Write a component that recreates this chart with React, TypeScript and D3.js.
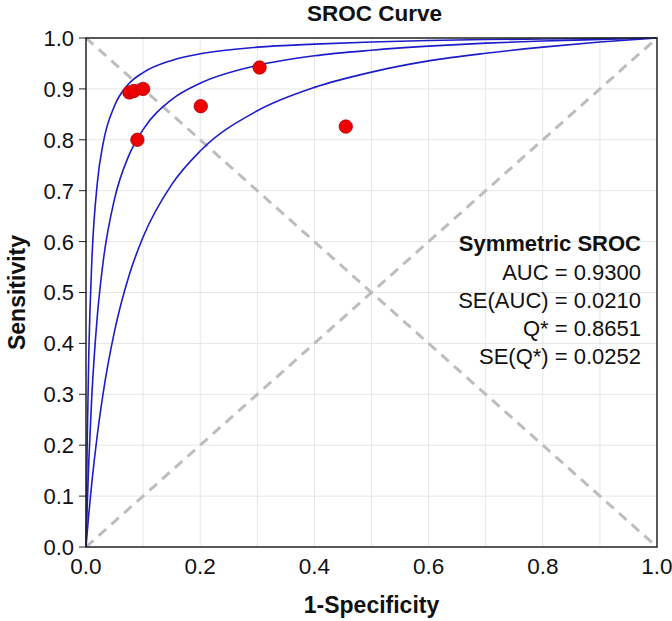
import * as d3 from 'd3'
import type { ReactElement } from 'react'

const curveFpr = [0, 0.002, 0.005, 0.01, 0.02, 0.03, 0.05, 0.075, 0.1, 0.15, 0.2, 0.3, 0.4, 0.5, 0.6, 0.7, 0.8, 0.9, 1]
const upperTpr = [0, 0.199, 0.384, 0.556, 0.717, 0.793, 0.867, 0.91, 0.932, 0.956, 0.969, 0.982, 0.988, 0.992, 0.995, 0.997, 0.998, 0.999, 1]
const middleTpr = [0, 0.076, 0.171, 0.293, 0.456, 0.56, 0.684, 0.769, 0.82, 0.879, 0.911, 0.946, 0.965, 0.976, 0.984, 0.99, 0.994, 0.997, 1]
const lowerTpr = [0, 0.027, 0.066, 0.124, 0.222, 0.302, 0.424, 0.532, 0.609, 0.712, 0.778, 0.857, 0.903, 0.933, 0.955, 0.97, 0.982, 0.992, 1]

// study points
const studyFpr = [0.076, 0.084, 0.1, 0.09, 0.201, 0.304, 0.455]
const studyTpr = [0.893, 0.896, 0.9, 0.8, 0.866, 0.942, 0.826]

const xTicks = [0, 0.2, 0.4, 0.6, 0.8, 1]
const yTicks = [0, 0.1, 0.2, 0.3, 0.4, 0.5, 0.6, 0.7, 0.8, 0.9, 1]
const gridTicks = [0.1, 0.2, 0.3, 0.4, 0.5, 0.6, 0.7, 0.8, 0.9]

const statLines = ['AUC = 0.9300', 'SE(AUC) = 0.0210', 'Q* = 0.8651', 'SE(Q*) = 0.0252']

const width = 672
const height = 621
const margin = { top: 38, right: 15, bottom: 74, left: 86 }
const font = '"Liberation Sans", Arial, sans-serif'

export default function App(): ReactElement {
  const x = d3.scaleLinear().domain([0, 1]).range([margin.left, width - margin.right])
  const y = d3.scaleLinear().domain([0, 1]).range([height - margin.bottom, margin.top])
  const [x0, x1] = x.range()
  const [y0, y1] = y.range()

  const line = d3
    .line<[number, number]>()
    .x((d) => x(d[0]))
    .y((d) => y(d[1]))
    .curve(d3.curveMonotoneX)

  const curves = [upperTpr, middleTpr, lowerTpr].map((tpr) =>
    line(curveFpr.map((f, i) => [f, tpr[i]] as [number, number])),
  )

  return (
    <svg width={width} height={height} style={{ position: 'absolute', left: 0, top: 0, background: '#fff' }} fontFamily={font}>
      {/* grid */}
      {gridTicks.map((t) => (
        <g key={t} stroke="#e6e6e6" strokeWidth={1}>
          <line x1={x(t)} x2={x(t)} y1={y1} y2={y0} />
          <line x1={x0} x2={x1} y1={y(t)} y2={y(t)} />
        </g>
      ))}

      {/* reference diagonals */}
      <g stroke="#bdbdbd" strokeWidth={3} strokeDasharray="10 7">
        <line x1={x(0)} y1={y(0)} x2={x(1)} y2={y(1)} />
        <line x1={x(0)} y1={y(1)} x2={x(1)} y2={y(0)} />
      </g>

      {/* SROC curve with its bounds */}
      {curves.map((d, i) => (
        <path key={i} d={d ?? ''} fill="none" stroke="#1c1cc8" strokeWidth={1.6} />
      ))}

      {/* studies */}
      {studyFpr.map((f, i) => (
        <circle key={i} cx={x(f)} cy={y(studyTpr[i])} r={6.7} fill="#ee0000" stroke="#b00000" strokeWidth={0.8} />
      ))}

      {/* frame */}
      <rect x={x0} y={y1} width={x1 - x0} height={y0 - y1} fill="none" stroke="#222" strokeWidth={1.5} />

      {/* y axis ticks */}
      {yTicks.map((t) => (
        <g key={t}>
          <line x1={x0 - 7} x2={x0} y1={y(t)} y2={y(t)} stroke="#222" strokeWidth={1} />
          <text x={x0 - 12} y={y(t)} dy="0.36em" textAnchor="end" fontSize={22} fill="#111">
            {t.toFixed(1)}
          </text>
        </g>
      ))}

      {/* x axis labels */}
      {xTicks.map((t) => (
        <text key={t} x={x(t)} y={y0 + 27} textAnchor="middle" fontSize={22.5} fill="#111">
          {t.toFixed(1)}
        </text>
      ))}

      <text x={(x0 + x1) / 2 + 3} y={20.5} textAnchor="middle" fontSize={22.5} fontWeight="bold" fill="#111">
        SROC Curve
      </text>
      <text x={(x0 + x1) / 2} y={613} textAnchor="middle" fontSize={23} fontWeight="bold" fill="#111">
        1-Specificity
      </text>
      <text
        transform={`translate(25,${(y0 + y1) / 2}) rotate(-90)`}
        textAnchor="middle"
        fontSize={23}
        fontWeight="bold"
        fill="#111"
      >
        Sensitivity
      </text>

      {/* summary statistics */}
      <text x={641} y={251} textAnchor="end" fontSize={22} fontWeight="bold" fill="#111">
        Symmetric SROC
      </text>
      {statLines.map((s, i) => (
        <text key={s} x={641} y={280 + i * 28} textAnchor="end" fontSize={22} fill="#111">
          {s}
        </text>
      ))}
    </svg>
  )
}
